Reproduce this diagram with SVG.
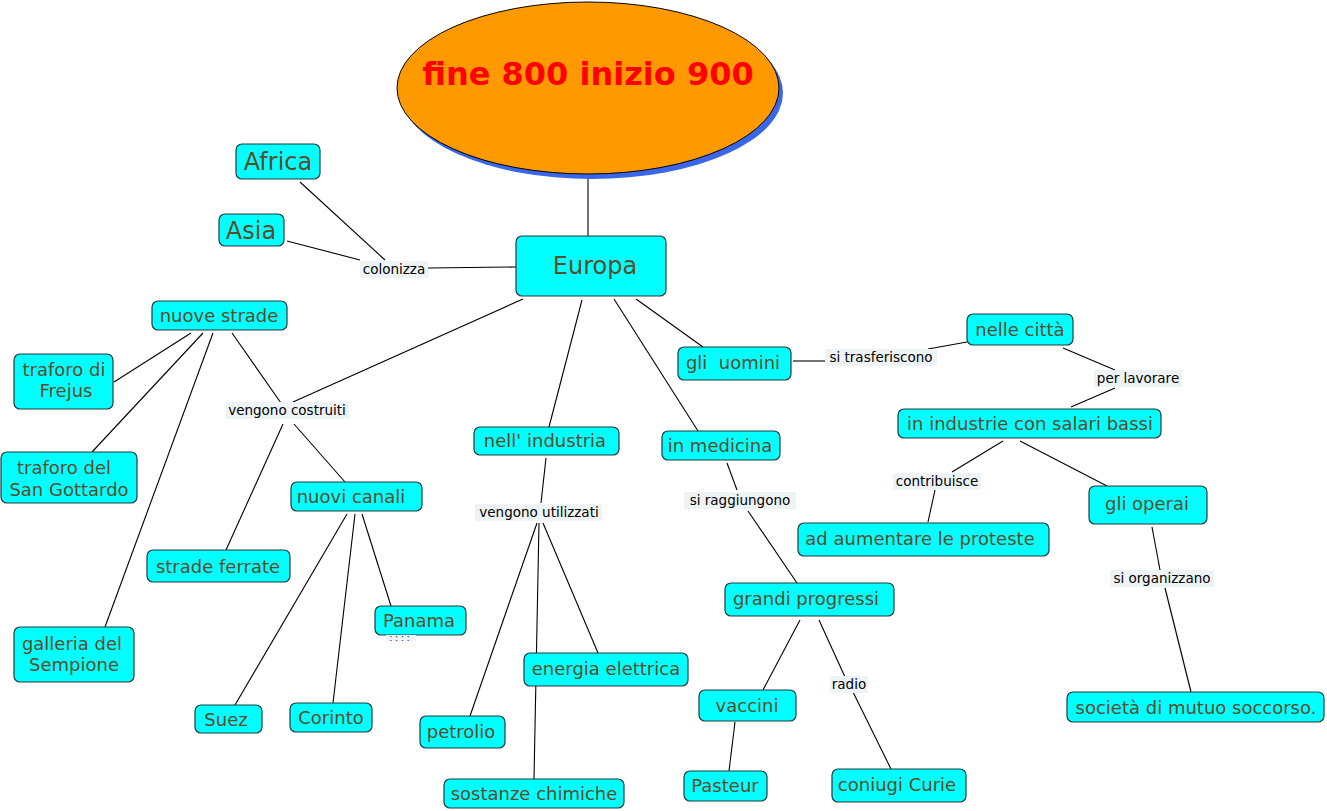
<svg xmlns="http://www.w3.org/2000/svg" width="1327" height="811" viewBox="0 0 1327 811">
<style>
.n rect{fill:#00ffff;stroke:#1e3b3b;stroke-width:1.2}
.n text{font-family:"DejaVu Sans",Verdana,sans-serif;font-size:18px;fill:#5b4b2b;text-anchor:middle;white-space:pre}
.big text{font-size:24px}
.l rect{fill:#eef3f6;stroke:none}
.l text{font-family:"DejaVu Sans",Verdana,sans-serif;font-size:13.5px;fill:#000;text-anchor:middle}
#connectors line{stroke:#000;stroke-width:1.1}
</style>
<rect width="1327" height="811" fill="#fff"/>
<g id="connectors">
<line x1="588" y1="175" x2="588" y2="236"/>
<line x1="300" y1="182" x2="385" y2="260"/>
<line x1="287" y1="241" x2="360" y2="260"/>
<line x1="428" y1="268" x2="516" y2="267"/>
<line x1="191" y1="333" x2="114" y2="382"/>
<line x1="203" y1="333" x2="92" y2="452"/>
<line x1="213" y1="333" x2="105" y2="627"/>
<line x1="232" y1="333" x2="281" y2="403"/>
<line x1="523" y1="299" x2="293" y2="402"/>
<line x1="283" y1="424" x2="226" y2="550"/>
<line x1="294" y1="424" x2="345" y2="482"/>
<line x1="347" y1="514" x2="235" y2="705"/>
<line x1="355" y1="514" x2="333" y2="703"/>
<line x1="362" y1="514" x2="391" y2="606"/>
<line x1="582" y1="300" x2="549" y2="427"/>
<line x1="546" y1="458" x2="541" y2="503"/>
<line x1="537" y1="523" x2="470" y2="716"/>
<line x1="539" y1="523" x2="534" y2="779"/>
<line x1="543" y1="523" x2="598" y2="653"/>
<line x1="614" y1="299" x2="698" y2="431"/>
<line x1="727" y1="463" x2="737" y2="490"/>
<line x1="748" y1="511" x2="797" y2="583"/>
<line x1="800" y1="620" x2="763" y2="690"/>
<line x1="735" y1="722" x2="729" y2="771"/>
<line x1="819" y1="620" x2="845" y2="677"/>
<line x1="853" y1="692" x2="891" y2="769"/>
<line x1="636" y1="299" x2="703" y2="347"/>
<line x1="793" y1="361" x2="825" y2="361"/>
<line x1="928" y1="349" x2="967" y2="342"/>
<line x1="1063" y1="348" x2="1115" y2="370"/>
<line x1="1115" y1="388" x2="1071" y2="407"/>
<line x1="1003" y1="441" x2="952" y2="472"/>
<line x1="935" y1="490" x2="928" y2="522"/>
<line x1="1020" y1="441" x2="1107" y2="486"/>
<line x1="1152" y1="527" x2="1160" y2="570"/>
<line x1="1165" y1="588" x2="1191" y2="692"/>
</g>
<g id="title">
<ellipse cx="592" cy="93" rx="191" ry="86" fill="#3a66e8"/>
<ellipse cx="588" cy="88" rx="191" ry="86" fill="#ff9900" stroke="#000" stroke-width="1"/>
<text x="588" y="85" font-family="'DejaVu Sans',Verdana,sans-serif" font-size="32" font-weight="bold" fill="#ff0000" text-anchor="middle">fine 800 inizio 900</text>
</g>
<g id="europa" class="n big"><rect x="516" y="236" width="150" height="60" rx="6"/><text x="595" y="274">Europa</text></g>
<g id="africa" class="n big"><rect x="236" y="144" width="84" height="35" rx="6"/><text x="278" y="170">Africa</text></g>
<g id="asia" class="n big"><rect x="219" y="214" width="65" height="32" rx="6"/><text x="251" y="239">Asia</text></g>
<g id="lbl-colonizza" class="l"><rect x="360" y="261" width="68" height="17"/><text x="394" y="274">colonizza</text></g>
<g id="nuove-strade" class="n"><rect x="152" y="301" width="135" height="29" rx="6"/><text x="219" y="322">nuove strade</text></g>
<g id="frejus" class="n"><rect x="14" y="354" width="99" height="55" rx="6"/><text x="64" y="376">traforo di</text><text x="66" y="397">Frejus</text></g>
<g id="gottardo" class="n"><rect x="1" y="452" width="136" height="51" rx="6"/><text x="64" y="474">traforo del</text><text x="69" y="496">San Gottardo</text></g>
<g id="sempione" class="n"><rect x="14" y="627" width="120" height="55" rx="6"/><text x="72" y="650">galleria del</text><text x="74" y="671">Sempione</text></g>
<g id="lbl-costruiti" class="l"><rect x="226" y="402" width="123" height="17"/><text x="287" y="415">vengono costruiti</text></g>
<g id="strade-ferrate" class="n"><rect x="147" y="550" width="143" height="32" rx="6"/><text x="218" y="573">strade ferrate</text></g>
<g id="nuovi-canali" class="n"><rect x="291" y="482" width="131" height="29" rx="6"/><text x="351" y="503">nuovi canali</text></g>
<g id="panama" class="n"><rect x="375" y="606" width="91" height="29" rx="6"/><text x="419" y="627">Panama</text></g>
<g id="lbl-panama" class="l"><rect x="386" y="635" width="30" height="6"/><text x="401" y="641" style="font-size:8px;letter-spacing:3px">::::</text></g>
<g id="suez" class="n"><rect x="195" y="705" width="67" height="28" rx="6"/><text x="226" y="726">Suez</text></g>
<g id="corinto" class="n"><rect x="290" y="703" width="82" height="29" rx="6"/><text x="331" y="724">Corinto</text></g>
<g id="industria" class="n"><rect x="474" y="427" width="145" height="28" rx="6"/><text x="545" y="447">nell' industria</text></g>
<g id="lbl-utilizzati" class="l"><rect x="475" y="504" width="127" height="17"/><text x="539" y="517">vengono utilizzati</text></g>
<g id="petrolio" class="n"><rect x="420" y="716" width="85" height="32" rx="6"/><text x="461" y="738">petrolio</text></g>
<g id="energia" class="n"><rect x="524" y="653" width="164" height="33" rx="6"/><text x="606" y="675">energia elettrica</text></g>
<g id="sostanze" class="n"><rect x="444" y="779" width="180" height="29" rx="6"/><text x="534" y="800">sostanze chimiche</text></g>
<g id="medicina" class="n"><rect x="662" y="431" width="118" height="29" rx="6"/><text x="720" y="452">in medicina</text></g>
<g id="lbl-raggiungono" class="l"><rect x="684" y="492" width="112" height="17"/><text x="740" y="505">si raggiungono</text></g>
<g id="progressi" class="n"><rect x="725" y="583" width="169" height="33" rx="6"/><text x="806" y="605">grandi progressi</text></g>
<g id="vaccini" class="n"><rect x="699" y="690" width="97" height="31" rx="6"/><text x="747" y="712">vaccini</text></g>
<g id="pasteur" class="n"><rect x="684" y="771" width="83" height="30" rx="6"/><text x="725" y="792">Pasteur</text></g>
<g id="lbl-radio" class="l"><rect x="830" y="676" width="38" height="17"/><text x="849" y="689">radio</text></g>
<g id="curie" class="n"><rect x="832" y="769" width="134" height="33" rx="6"/><text x="897" y="791">coniugi Curie</text></g>
<g id="uomini" class="n"><rect x="678" y="347" width="113" height="33" rx="6"/><text x="733" y="369">gli  uomini</text></g>
<g id="lbl-trasferiscono" class="l"><rect x="825" y="349" width="112" height="17"/><text x="881" y="362">si trasferiscono</text></g>
<g id="citta" class="n"><rect x="967" y="314" width="106" height="31" rx="6"/><text x="1020" y="336">nelle città</text></g>
<g id="lbl-lavorare" class="l"><rect x="1094" y="370" width="88" height="17"/><text x="1138" y="383">per lavorare</text></g>
<g id="salari" class="n"><rect x="898" y="409" width="263" height="29" rx="6"/><text x="1030" y="430">in industrie con salari bassi</text></g>
<g id="lbl-contribuisce" class="l"><rect x="893" y="473" width="88" height="17"/><text x="937" y="486">contribuisce</text></g>
<g id="proteste" class="n"><rect x="798" y="523" width="251" height="33" rx="6"/><text x="920" y="545">ad aumentare le proteste</text></g>
<g id="operai" class="n"><rect x="1089" y="486" width="118" height="38" rx="6"/><text x="1147" y="510">gli operai</text></g>
<g id="lbl-organizzano" class="l"><rect x="1110" y="570" width="104" height="17"/><text x="1162" y="583">si organizzano</text></g>
<g id="societa" class="n"><rect x="1067" y="692" width="257" height="30" rx="6"/><text x="1196" y="714">società di mutuo soccorso.</text></g>
</svg>
